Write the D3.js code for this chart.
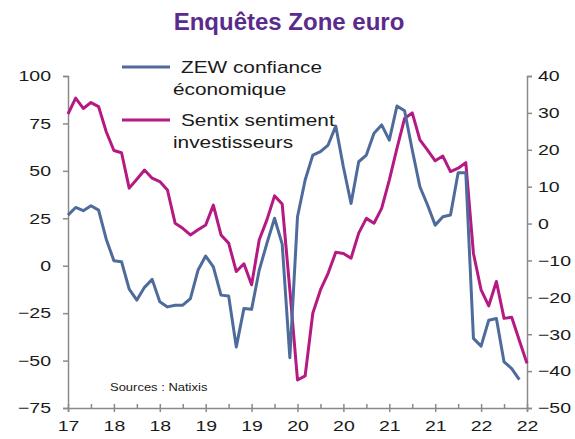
<!DOCTYPE html>
<html>
<head>
<meta charset="utf-8">
<script src="https://cdn.jsdelivr.net/npm/d3@7"></script>
<style>
  body { margin: 0; background: #fff; }
  text { font-family: "Liberation Sans", Arial, sans-serif; }
</style>
</head>
<body>
<div id="chart"></div>
<script>
// monthly values, Oct 2017 -> Oct 2022
var zew = [26.7, 30.7, 29.0, 31.6, 29.3, 14, 2.6, 2.1, -12.3, -18.1,
    -11.4, -7.2, -19, -21.7, -20.8, -20.8, -17.3, -2.3, 5.1, -0.6,
    -15.5, -16, -42.8, -22.5, -23.0, -2.3, 11.8, 25.0, 11.4, -48.5,
    25.8, 45.2, 58.3, 60.1, 63.6, 73.6, 52, 32.8, 54.8, 58.3,
    69.8, 74.2, 66.2, 84.2, 81.7, 61, 41.6, 32, 21.4, 25.8,
    26.7, 49.0, 49.0, -38.3, -42.4, -28.7, -27.8, -50.7, -54.2, -60.0];

var sentix = [29.7, 34.0, 31.2, 32.8, 31.7, 24.9, 19.8, 19.2, 9.6, 12.0,
    14.5, 12.3, 11.4, 9.1, 0.1, -1.3, -3.1, -1.7, -0.4, 5.0,
    -3.1, -5.3, -13.0, -10.9, -16.6, -4.4, 1.0, 7.5, 5.3, -18,
    -42.4, -41.3, -24.3, -18.0, -13.5, -7.8, -8.1, -9.4, -2.6, 1.4,
    0.1, 4.1, 11.8, 20.4, 28.5, 30.0, 22.7, 19.9, 17.0, 18.3,
    14.1, 15.0, 16.5, -8.1, -18.0, -22.3, -15.7, -25.7, -25.4, -31.7,
    -37.9];

var xLabels = ["17", "18", "18", "19", "19", "20", "20", "21", "21", "22", "22"];
var leftTicks = [100, 75, 50, 25, 0, -25, -50, -75];
var rightTicks = [40, 30, 20, 10, 0, -10, -20, -30, -40, -50];

var W = 575, H = 439;
var sx = 1.3; // text in the source is stretched horizontally

var svg = d3.select("#chart")
    .append("svg")
    .attr("width", W)
    .attr("height", H);

var x = d3.scaleLinear().domain([0, 60]).range([68, 527]);
var yL = d3.scaleLinear().domain([-75, 100]).range([408, 76]);
var yR = d3.scaleLinear().domain([-50, 40]).range([408, 76]);

var axisColor = "#8a8a8a";
var textColor = "#1a1a1a";

// title
svg.append("text")
    .attr("x", 289)
    .attr("y", 30)
    .attr("text-anchor", "middle")
    .attr("font-size", 24)
    .attr("font-weight", "bold")
    .attr("fill", "#5a2b8c")
    .text("Enquêtes Zone euro");

// left axis
var gL = svg.append("g")
    .attr("transform", "translate(" + x(0) + ",0)")
    .call(d3.axisLeft(yL).tickValues(leftTicks).tickSize(5).tickPadding(12));

// right axis
var gR = svg.append("g")
    .attr("transform", "translate(" + x(60) + ",0)")
    .call(d3.axisRight(yR).tickValues(rightTicks).tickSize(5).tickPadding(6));

// bottom axis, major ticks every 6 months
var gB = svg.append("g")
    .attr("transform", "translate(0," + yL(-75) + ")")
    .call(d3.axisBottom(x)
        .tickValues(d3.range(0, 61, 6))
        .tickSize(4)
        .tickPadding(8)
        .tickFormat(function (d, i) { return xLabels[i]; }));

gB.selectAll(".tick line").attr("y1", -4);

// minor ticks
svg.append("g")
    .attr("class", "minor")
    .attr("transform", "translate(0," + yL(-75) + ")")
    .call(d3.axisBottom(x)
        .tickValues(d3.range(3, 60, 6))
        .tickSize(-4)
        .tickFormat(""));

svg.selectAll(".domain, .tick line")
    .attr("stroke", axisColor)
    .attr("stroke-width", 1.5);

svg.select(".minor .domain").remove();

// stretch the tick labels like the source
gL.selectAll(".tick text")
    .attr("x", -17 / sx)
    .attr("transform", "scale(" + sx + ",1)");
gR.selectAll(".tick text")
    .attr("x", 11 / sx)
    .attr("transform", "scale(" + sx + ",1)");
gB.selectAll(".tick text")
    .attr("transform", "scale(" + sx + ",1)");

svg.selectAll(".tick text")
    .attr("font-size", 15)
    .attr("font-family", "Liberation Sans, Arial, sans-serif")
    .attr("fill", textColor);

// lines
var lineL = d3.line()
    .x(function (d, i) { return x(i); })
    .y(function (d) { return yL(d); });
var lineR = d3.line()
    .x(function (d, i) { return x(i); })
    .y(function (d) { return yR(d); });

svg.append("path")
    .datum(sentix)
    .attr("fill", "none")
    .attr("stroke", "#b51a82")
    .attr("stroke-width", 3)
    .attr("stroke-linejoin", "round")
    .attr("d", lineR);

svg.append("path")
    .datum(zew)
    .attr("fill", "none")
    .attr("stroke", "#4e6b9b")
    .attr("stroke-width", 3)
    .attr("stroke-linejoin", "round")
    .attr("d", lineL);

// legend
var legend = [
    { color: "#4e6b9b", y: 67, lines: ["ZEW confiance", "économique"], dx: 181 },
    { color: "#b51a82", y: 120, lines: ["Sentix sentiment", "investisseurs"], dx: 181 }
];

legend.forEach(function (l) {
    svg.append("line")
        .attr("x1", 122).attr("x2", 170)
        .attr("y1", l.y).attr("y2", l.y)
        .attr("stroke", l.color)
        .attr("stroke-width", 3);
    svg.append("text")
        .attr("transform", "translate(" + l.dx + "," + (l.y + 6) + ") scale(" + sx + ",1)")
        .attr("font-size", 16)
        .attr("fill", textColor)
        .text(l.lines[0]);
    svg.append("text")
        .attr("transform", "translate(173," + (l.y + 28) + ") scale(" + sx + ",1)")
        .attr("font-size", 16)
        .attr("fill", textColor)
        .text(l.lines[1]);
});

svg.append("text")
    .attr("transform", "translate(110,391) scale(" + sx + ",1)")
    .attr("font-size", 10)
    .attr("fill", textColor)
    .text("Sources : Natixis");
</script>
</body>
</html>
